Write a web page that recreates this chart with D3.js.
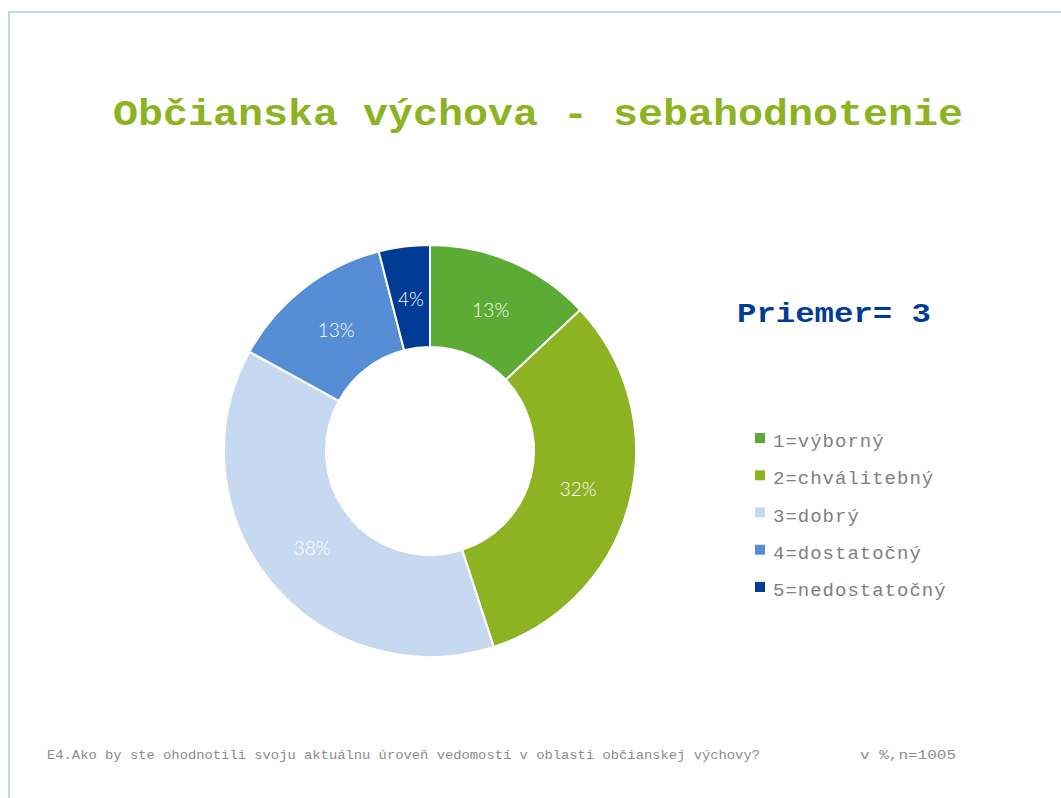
<!DOCTYPE html>
<html>
<head>
<meta charset="utf-8">
<script src="https://cdn.jsdelivr.net/npm/d3@7"></script>
<style>
    body { margin: 0; background: #fff; }
    svg { display: block; }
</style>
</head>
<body>
<div id="chart"></div>
<script>
const categories = ['1=výborný', '2=chválitebný', '3=dobrý', '4=dostatočný', '5=nedostatočný'];
const values = [13, 32, 38, 13, 4];
const colors = ['#5BAB34', '#8DB322', '#C6D9F1', '#558ED5', '#003C96'];
const title = 'Občianska výchova - sebahodnotenie';
const averageText = 'Priemer= 3';
const questionText = 'E4.Ako by ste ohodnotili svoju aktuálnu úroveň vedomostí v oblasti občianskej výchovy?';
const sampleText = 'v %,n=1005';

document.addEventListener('DOMContentLoaded', function(){
    drawChart();
});

function drawChart() {
    const width = 1061, height = 798;
    const svg = d3.select('#chart').append('svg').attr('width', width).attr('height', height);
    const mono = '"Liberation Mono", "Courier New", monospace';

    // slide frame
    svg.append('path')
        .attr('d', 'M9,798 V12 H1061')
        .attr('fill', 'none')
        .attr('stroke', '#BDD7EE')
        .attr('stroke-width', 2);

    svg.append('text')
        .attr('x', 538).attr('y', 125)
        .attr('text-anchor', 'middle')
        .attr('font-family', mono)
        .attr('font-weight', 'bold')
        .attr('font-size', 37)
        .attr('textLength', 850)
        .attr('lengthAdjust', 'spacingAndGlyphs')
        .attr('fill', '#8DB322')
        .text(title);

    const data = categories.map((c, i) => ({ name: c, value: values[i], color: colors[i] }));
    const pie = d3.pie().sort(null).value(d => d.value);
    const arc = d3.arc().innerRadius(104).outerRadius(206);
    const labelArc = d3.arc().innerRadius(153).outerRadius(153);

    const g = svg.append('g').attr('transform', 'translate(430,451)');
    const slices = g.selectAll('g').data(pie(data)).enter().append('g');

    slices.append('path')
        .attr('d', arc)
        .attr('fill', d => d.data.color)
        .attr('stroke', '#fff')
        .attr('stroke-width', 2);

    slices.append('text')
        .attr('transform', d => 'translate(' + labelArc.centroid(d) + ')')
        .attr('text-anchor', 'middle')
        .attr('dy', '0.35em')
        .attr('font-family', 'Lato, "Open Sans", sans-serif')
        .attr('font-weight', 300)
        .attr('font-size', 19)
        .attr('fill', '#fff')
        .text(d => d.data.value + '%');

    svg.append('text')
        .attr('x', 737).attr('y', 322)
        .attr('font-family', mono)
        .attr('font-weight', 'bold')
        .attr('font-size', 28)
        .attr('textLength', 194)
        .attr('lengthAdjust', 'spacingAndGlyphs')
        .attr('fill', '#003C96')
        .text(averageText);

    const legend = svg.append('g').attr('transform', 'translate(755,433)');
    const rows = legend.selectAll('g').data(data).enter().append('g')
        .attr('transform', (d, i) => 'translate(0,' + (i * 37.25) + ')');
    rows.append('rect')
        .attr('width', 10).attr('height', 10)
        .attr('fill', d => d.color);
    rows.append('text')
        .attr('x', 18).attr('y', 14)
        .attr('font-family', mono)
        .attr('font-size', 19)
        .attr('letter-spacing', 1)
        .attr('fill', '#808080')
        .text(d => d.name);

    svg.append('text')
        .attr('x', 47).attr('y', 759)
        .attr('font-family', mono)
        .attr('font-size', 13)
        .attr('textLength', 713)
        .attr('lengthAdjust', 'spacingAndGlyphs')
        .attr('fill', '#8C8C8C')
        .text(questionText);

    svg.append('text')
        .attr('x', 860).attr('y', 759)
        .attr('font-family', mono)
        .attr('font-size', 13)
        .attr('textLength', 96)
        .attr('lengthAdjust', 'spacingAndGlyphs')
        .attr('fill', '#8C8C8C')
        .text(sampleText);
}
</script>
</body>
</html>
